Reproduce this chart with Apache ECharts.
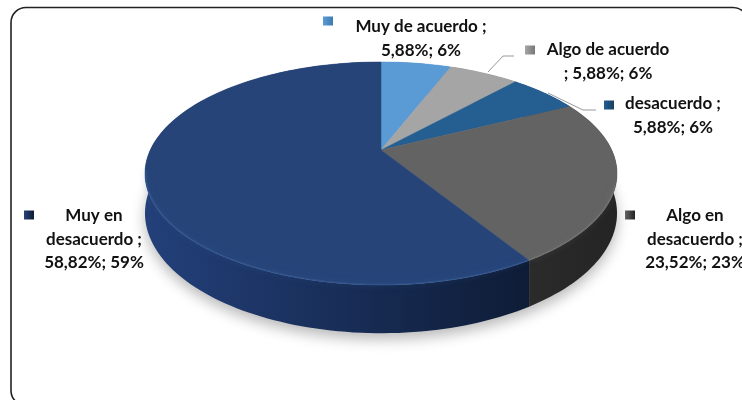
<!DOCTYPE html>
<html>
<head>
<meta charset="utf-8">
<style>html,body{margin:0;padding:0;background:#fff;overflow:hidden}#c{width:742px;height:400px;filter:blur(0.45px)}</style>
<script src="https://cdn.jsdelivr.net/npm/echarts@6/dist/echarts.min.js"></script>
</head>
<body>
<div id="c"></div>
<script>
// ---- data ----
const categories = ['Muy de acuerdo', 'Algo de acuerdo', 'desacuerdo', 'Algo en desacuerdo', 'Muy en desacuerdo'];
const shares = [5.88, 5.88, 5.88, 23.52, 58.82];
const rounded = [6, 6, 6, 23, 59];
const labelLines = [
  ['Muy de acuerdo ;', '5,88%; 6%'],
  ['Algo de acuerdo', '; 5,88%; 6%'],
  ['desacuerdo ;', '5,88%; 6%'],
  ['Algo en', 'desacuerdo ;', '23,52%; 23%'],
  ['Muy en', 'desacuerdo ;', '58,82%; 59%']
];

// ---- style and layout ----
const topColors = ['#5b9bd5', '#a5a5a5', '#255e91', '#636363', '#264478'];
const rimColors = ['#7fb3e0', '#c0c0c0', '#3d7ab0', '#7d7d7d', '#3f63a3'];
const sideColors = [
  ['#3f7bb0', '#3f7bb0'], ['#777', '#777'], ['#183f63', '#183f63'],
  ['#2b2b2b', '#242424'], ['#23407a', '#0e1c36']
];
const labelAnchors = [[421, 27], [608, 50], [673, 104], [695, 216], [94, 216]];
const keyAnchors = [[328, 21], [530, 50], [609, 105], [630, 215], [29, 215]];
const leaders = [null, [[488, 72], [503, 56], [514, 56]], [[548, 93], [583, 110], [596, 110]], null, null];
const LINE = 23.5, CX = 381, CY = 150, K = 0.2108, HH = 106.6, RR = 230.7, DEPTH = 38;

const total = shares.reduce((a, b) => a + b, 0);
const starts = [];
shares.reduce((acc, v, i) => { starts[i] = acc; return acc + v; }, 0);

// perspective projection of a point on the tilted disc
function project(fraction, radius, drop) {
  const a = fraction * 2 * Math.PI, u = Math.sin(a) * radius, v = Math.cos(a) * radius;
  const w = 1 / (1 + K * v);
  return [CX + RR * u * w, CY - HH * v * w + drop * w];
}
function arc(from, to, radius, drop) {
  const pts = [], n = Math.max(6, Math.ceil((to - from) * 240));
  for (let j = 0; j <= n; j++) pts.push(project(from + (to - from) * j / n, radius, drop));
  return pts;
}

function renderItem(params, api) {
  const i = params.dataIndex;
  const value = api.value(0);
  const from = starts[i] / total, to = from + value / total;
  const rim = arc(from, to, 1, 0), base = arc(from, to, 1, DEPTH);
  const children = [];

  if (i === 0) {
    children.push({
      type: 'polygon', z2: 0,
      shape: { points: arc(0, 1, 1, DEPTH) },
      style: { fill: '#dcdcdc', shadowBlur: 14, shadowColor: 'rgba(0,0,0,0.28)', shadowOffsetY: 6 }
    });
  }
  children.push({
    type: 'polygon', z2: 1,
    shape: { points: rim.concat(base.slice().reverse()) },
    style: {
      fill: {
        type: 'linear', x: 0, y: 0, x2: 1, y2: 0,
        colorStops: [{ offset: 0, color: sideColors[i][0] }, { offset: 1, color: sideColors[i][1] }]
      }
    }
  });
  children.push({
    type: 'polygon', z2: 2,
    shape: { points: [[CX, CY]].concat(rim) },
    style: { fill: topColors[i], stroke: topColors[i], lineWidth: 0.5 }
  });
  // soft bevel along the visible front rim
  if (to > 0.3) {
    const bf = Math.max(from, 0.3), bt = Math.min(to, 0.72);
    children.push({
      type: 'polyline', z2: 3,
      shape: { points: arc(bf, bt, 0.997, 0) },
      style: { stroke: rimColors[i], lineWidth: 1.5, fill: null, opacity: 0.4, shadowBlur: 6, shadowColor: rimColors[i] }
    });
  }
  if (leaders[i]) {
    children.push({
      type: 'polyline', z2: 5,
      shape: { points: leaders[i] },
      style: { stroke: '#999', lineWidth: 1, fill: null }
    });
  }
  const [kx, ky] = keyAnchors[i];
  children.push({
    type: 'rect', z2: 6,
    shape: { x: kx - 5, y: ky - 4.5, width: 10, height: 9 },
    style: {
      fill: {
        type: 'linear', x: 0, y: 0, x2: 1, y2: 0,
        colorStops: [{ offset: 0, color: topColors[i] }, { offset: 1, color: sideColors[i][1] }]
      }
    }
  });
  labelLines[i].forEach((line, j) => {
    children.push({
      type: 'text', z2: 6,
      style: {
        x: labelAnchors[i][0], y: labelAnchors[i][1] + j * LINE,
        text: line, align: 'center', verticalAlign: 'middle',
        font: 'bold 17px Lato, "Open Sans", sans-serif', fill: '#111'
      }
    });
  });
  return { type: 'group', children };
}

const chart = echarts.init(document.getElementById('c'), null, { renderer: 'canvas' });
chart.setOption({
  animation: false,
  backgroundColor: '#fff',
  graphic: [{
    type: 'rect', silent: true, z: 0,
    shape: { x: 11, y: 7.5, width: 737, height: 398, r: 15 },
    style: { fill: 'transparent', stroke: '#222', lineWidth: 1.6 }
  }],
  series: [{
    type: 'custom',
    coordinateSystem: 'none',
    silent: true,
    z: 2,
    renderItem,
    data: shares.map((v, i) => ({ name: categories[i], value: [v, rounded[i]] }))
  }]
});
</script>
</body>
</html>
